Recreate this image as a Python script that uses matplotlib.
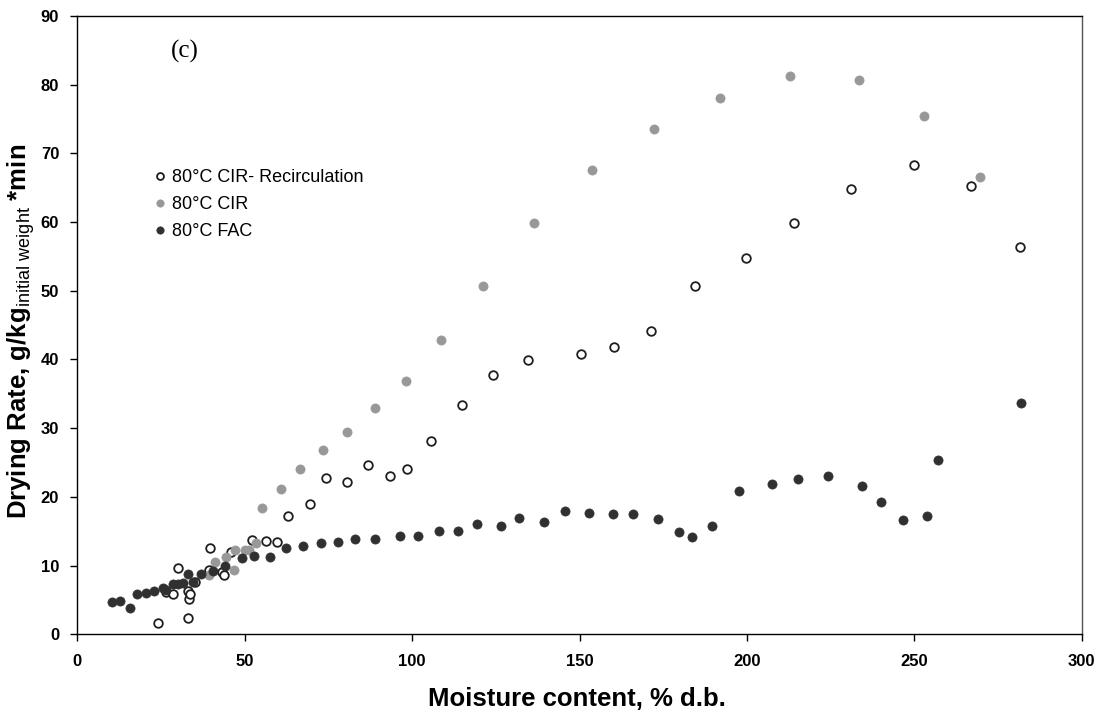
import numpy as np
import matplotlib
matplotlib.use('Agg')
import matplotlib.pyplot as plt

plt.rcParams['font.family'] = ['Liberation Sans', 'DejaVu Sans']
plt.rcParams['mathtext.fontset'] = 'custom'
plt.rcParams['mathtext.rm'] = 'Liberation Sans'

# 80°C CIR- Recirculation (open circles)
rec_x = [24.0, 26.4, 28.6, 30.1, 33.1, 33.1, 33.4, 33.7, 35.1, 39.4, 39.6, 43.1, 43.8,
         45.8, 52.3, 56.5, 59.6, 62.8, 69.6, 74.2, 80.5, 86.8, 93.3, 98.4, 105.5, 115.0,
         124.1, 134.7, 150.4, 160.2, 171.5, 184.5, 199.6, 214.1, 231.0, 250.0, 267.0, 281.5]
rec_y = [1.65, 6.2, 5.8, 9.7, 2.3, 6.3, 5.2, 5.9, 7.6, 9.3, 12.5, 9.0, 8.6,
         12.0, 13.7, 13.6, 13.5, 17.2, 19.0, 22.7, 22.1, 24.7, 23.0, 24.0, 28.1, 33.4,
         37.8, 39.9, 40.8, 41.8, 44.1, 50.7, 54.8, 59.8, 64.8, 68.3, 65.2, 56.4]

# 80°C CIR (gray)
cir_x = [39.4, 41.2, 44.3, 46.8, 47.2, 50.0, 51.2, 53.3, 55.2, 60.7, 66.6, 73.3, 80.7,
         88.9, 98.1, 108.7, 121.3, 136.5, 153.8, 172.4, 192.1, 212.8, 233.6, 252.9, 269.6]
cir_y = [8.6, 10.5, 11.2, 9.3, 12.25, 12.25, 12.25, 13.3, 18.4, 21.2, 24.1, 26.8, 29.4,
         32.9, 36.8, 42.9, 50.7, 59.8, 67.6, 73.5, 78.1, 81.3, 80.7, 75.5, 66.6]

# 80°C FAC (dark)
fac_x = [10.5, 12.9, 15.6, 17.8, 20.6, 23.0, 25.5, 26.6, 28.6, 30.1, 31.6, 33.1, 34.6,
         36.9, 40.4, 44.0, 49.2, 52.8, 57.7, 62.4, 67.4, 72.9, 77.8, 83.0, 88.9, 96.4,
         101.9, 108.0, 113.7, 119.5, 126.6, 131.9, 139.3, 145.7, 152.8, 160.0, 166.0,
         173.3, 179.6, 183.5, 189.7, 197.7, 207.5, 215.2, 224.3, 234.4, 240.2, 246.5,
         253.7, 257.1, 281.8]
fac_y = [4.7, 4.9, 3.9, 5.8, 6.05, 6.3, 6.7, 6.4, 7.3, 7.3, 7.4, 8.8, 7.6,
         8.8, 9.2, 9.9, 11.1, 11.4, 11.3, 12.6, 12.9, 13.3, 13.5, 13.85, 13.85, 14.3,
         14.3, 15.0, 15.0, 16.0, 15.7, 17.0, 16.4, 17.9, 17.7, 17.5, 17.45,
         16.8, 14.85, 14.15, 15.7, 20.8, 21.9, 22.6, 23.1, 21.6, 19.3, 16.7,
         17.2, 25.4, 33.7]

fig = plt.figure(figsize=(11.01, 7.13), dpi=100)
W, H = 1101.0, 713.0
ax = fig.add_axes([77.3 / W, 1 - 634.3 / H, (1081.7 - 77.3) / W, (634.3 - 16) / H])

ax.plot(rec_x, rec_y, 'o', ls='none', ms=6.2, mfc='white', mec='#1e1e1e', mew=1.3,
        label='80°C CIR- Recirculation')
ax.plot(cir_x, cir_y, 'o', ls='none', ms=6.6, mfc='#989898', mec='#989898', mew=0.5,
        label='80°C CIR')
ax.plot(fac_x, fac_y, 'o', ls='none', ms=6.6, mfc='#303030', mec='#303030', mew=0.5,
        label='80°C FAC')

ax.set_xlim(0, 300)
ax.set_ylim(0, 90)
ax.set_xticks(np.arange(0, 301, 50))
ax.set_yticks(np.arange(0, 91, 10))
ax.tick_params(direction='out', length=5, width=1, labelsize=12)
ax.tick_params(axis='x', pad=9)
ax.tick_params(axis='y', pad=8)
for lab in ax.get_xticklabels() + ax.get_yticklabels():
    lab.set_fontweight('bold')
for sp in ax.spines.values():
    sp.set_linewidth(1)
ax.spines['right'].set_color('#555555')

ax.set_xlabel('Moisture content, % d.b.', fontsize=18.5, fontweight='bold')
ax.xaxis.set_label_coords(0.497, -0.085)
ax.set_ylabel(r'Drying Rate, g/kg$_{\mathrm{initial\ weight}}$ *min', fontsize=18.5,
              fontweight='bold')
ax.yaxis.set_label_coords(-0.040, 0.49)

ax.text(0.093, 0.942, '(c)', transform=ax.transAxes, fontsize=18,
        family='Liberation Serif', ha='left', va='center')

ax.legend(loc='upper left', bbox_to_anchor=(0.077, 0.752), frameon=False,
          fontsize=13, markerscale=0.8, handlelength=0.6, handletextpad=0.35,
          labelspacing=0.55, borderpad=0, borderaxespad=0)

fig.savefig('out.png', dpi=100)
